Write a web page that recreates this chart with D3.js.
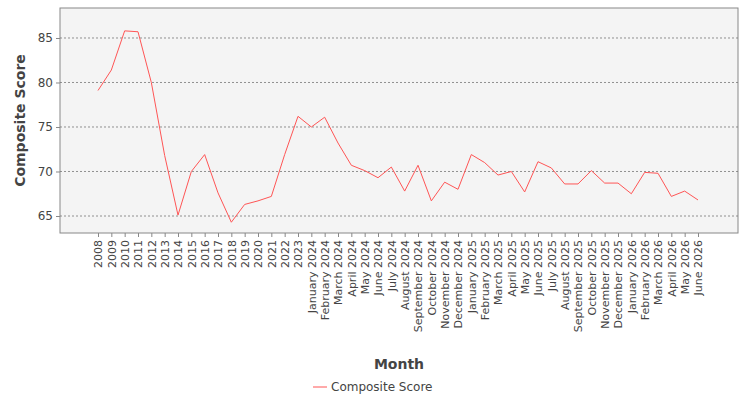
<!DOCTYPE html>
<html>
<head>
<meta charset="utf-8">
<script src="https://cdn.jsdelivr.net/npm/d3@7"></script>
<style>
  body { margin: 0; background: #fff; }
  text { font-family: "DejaVu Sans", sans-serif; fill: #444; }
</style>
</head>
<body>
<script>
var years = ["2008","2009","2010","2011","2012","2013","2014","2015","2016","2017","2018","2019","2020","2021","2022","2023"];
var monthNames = ["January","February","March","April","May","June","July","August","September","October","November","December"];
var months = [];
[2024, 2025, 2026].forEach(function (y) {
  monthNames.forEach(function (m, i) { if (y < 2026 || i < 6) months.push(m + " " + y); });
});
var categories = years.concat(months);
var scores = [79.1, 81.4, 85.8, 85.7, 80.0, 71.8, 65.1, 70.0, 71.9, 67.6, 64.3, 66.3, 66.7, 67.2, 71.9, 76.2,
  75.0, 76.1, 73.2, 70.7, 70.1, 69.3, 70.5, 67.8, 70.7, 66.7, 68.8, 68.0,
  71.9, 71.0, 69.6, 70.0, 67.7, 71.1, 70.4, 68.6, 68.6, 70.1, 68.7, 68.7,
  67.5, 69.9, 69.8, 67.2, 67.8, 66.8];
var yTicks = [65, 70, 75, 80, 85];

var width = 750, height = 400;
var plotLeft = 60, plotRight = 738, plotTop = 8, plotBottom = 233;
var svg = d3.select("body").append("svg").attr("width", width).attr("height", height);

var x = d3.scalePoint().domain(categories).range([98, 698]);
var y = d3.scaleLinear().domain([63.09, 88.37]).range([plotBottom, plotTop]);

svg.append("rect").attr("x", plotLeft).attr("y", plotTop).attr("width", plotRight - plotLeft).attr("height", plotBottom - plotTop)
  .attr("fill", "#f4f4f4").attr("stroke", "#888");

svg.selectAll(".grid").data(yTicks).enter().append("line")
  .attr("x1", plotLeft).attr("x2", plotRight)
  .attr("y1", function (d) { return y(d); }).attr("y2", function (d) { return y(d); })
  .attr("stroke", "#777").attr("stroke-dasharray", "2,2").attr("stroke-width", 0.8);

var yAxis = svg.append("g").attr("transform", "translate(" + plotLeft + ",0)")
  .call(d3.axisLeft(y).tickValues(yTicks).tickSize(4).tickPadding(3));
yAxis.select(".domain").remove();
yAxis.selectAll("line").attr("stroke", "#888");
yAxis.selectAll("text").style("font-size", "12px").attr("fill", "#444");

var xAxis = svg.append("g").attr("transform", "translate(0," + plotBottom + ")")
  .call(d3.axisBottom(x).tickSize(4).tickPadding(4));
xAxis.select(".domain").remove();
xAxis.selectAll("line").attr("stroke", "#888");
xAxis.selectAll("text").style("font-size", "11px").attr("fill", "#444")
  .attr("text-anchor", "end").attr("transform", "rotate(-90)")
  .attr("x", -7).attr("y", 0).attr("dy", "0.35em");

svg.append("path").datum(scores)
  .attr("fill", "none").attr("stroke", "#ff5555").attr("stroke-width", 1)
  .attr("d", d3.line().x(function (d, i) { return x(categories[i]); }).y(function (d) { return y(d); }));

svg.append("text").attr("x", (plotLeft + plotRight) / 2).attr("y", 369).attr("text-anchor", "middle")
  .style("font-size", "14px").style("font-weight", "bold").attr("fill", "#444").text("Month");
svg.append("text").attr("transform", "translate(25," + ((plotTop + plotBottom) / 2) + ") rotate(-90)")
  .attr("text-anchor", "middle").style("font-size", "14px").style("font-weight", "bold").attr("fill", "#444")
  .text("Composite Score");

var lg = svg.append("g").attr("transform", "translate(313,387)");
lg.append("line").attr("x1", 0).attr("x2", 14).attr("stroke", "#ff5555");
lg.append("text").attr("x", 18).attr("dy", "0.35em").style("font-size", "12px").attr("fill", "#444").text("Composite Score");
</script>
</body>
</html>
